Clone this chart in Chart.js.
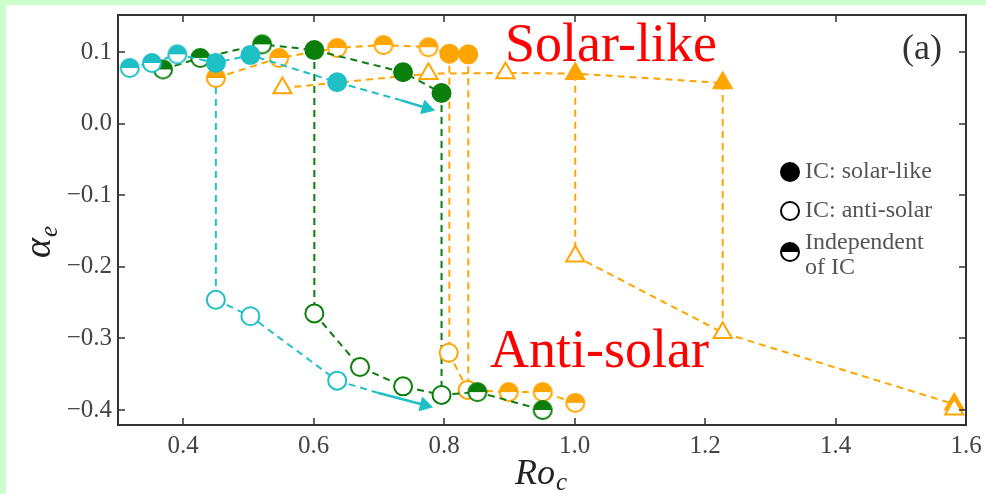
<!DOCTYPE html>
<html><head><meta charset="utf-8">
<script src="https://cdn.jsdelivr.net/npm/chart.js@4.4.0/dist/chart.umd.min.js"></script>
<style>html,body{margin:0;padding:0;background:#ccffcc;}canvas{display:block;}</style>
</head><body>
<canvas id="c" width="986" height="494"></canvas>
<script>
// ---------- data ----------
const xTicks = [0.4, 0.6, 0.8, 1.0, 1.2, 1.4, 1.6];
const yTicks = [0.1, 0.0, -0.1, -0.2, -0.3, -0.4];

// cyan branch
const cyanUpX = [0.318, 0.352, 0.391, 0.450, 0.503, 0.636];
const cyanUpY = [0.078, 0.085, 0.097, 0.085, 0.096, 0.058];
const cyanUpM = ['h', 'h', 'h', 'f', 'f', 'f'];
const cyanUpTailX = [0.636, 0.733];
const cyanUpTailY = [0.058, 0.033];
const cyanUpArrowX = [0.733, 0.773];
const cyanUpArrowY = [0.033, 0.022];
const cyanDropX = [0.450, 0.450];
const cyanDropY = [0.085, -0.246];
const cyanLowX = [0.450, 0.503, 0.636];
const cyanLowY = [-0.246, -0.269, -0.359];
const cyanLowM = ['o', 'o', 'o'];
const cyanLowTailX = [0.636, 0.698];
const cyanLowTailY = [-0.359, -0.376];
const cyanLowArrowX = [0.698, 0.770];
const cyanLowArrowY = [-0.376, -0.393];

// green branch
const greenUpX = [0.369, 0.426, 0.521, 0.601, 0.737, 0.796];
const greenUpY = [0.076, 0.092, 0.111, 0.103, 0.072, 0.043];
const greenUpM = ['h', 'h', 'h', 'f', 'f', 'f'];
const greenDrop1X = [0.601, 0.601];
const greenDrop1Y = [0.103, -0.265];
const greenDrop2X = [0.796, 0.796];
const greenDrop2Y = [0.043, -0.379];
const greenLowX = [0.601, 0.671, 0.737, 0.796, 0.851, 0.951];
const greenLowY = [-0.265, -0.340, -0.367, -0.379, -0.375, -0.400];
const greenLowM = ['o', 'o', 'o', 'o', 'h', 'h'];

// orange circles
const orUpX = [0.450, 0.547, 0.636, 0.707, 0.776, 0.808, 0.837];
const orUpY = [0.064, 0.092, 0.106, 0.110, 0.107, 0.098, 0.097];
const orUpM = ['h', 'h', 'h', 'h', 'h', 'f', 'f'];
const orDrop1X = [0.808, 0.808];
const orDrop1Y = [0.098, -0.320];
const orDrop2X = [0.837, 0.837];
const orDrop2Y = [0.097, -0.372];
const orLowX = [0.807, 0.836, 0.899, 0.951, 1.001];
const orLowY = [-0.320, -0.372, -0.375, -0.375, -0.390];
const orLowM = ['o', 'o', 'h', 'h', 'h'];

// orange triangles
const triUpX = [0.552, 0.776, 0.894, 1.001, 1.227];
const triUpY = [0.050, 0.070, 0.071, 0.070, 0.057];
const triUpM = ['to', 'to', 'to', 'tf', 'tf'];
const triDrop1X = [1.001, 1.001];
const triDrop1Y = [0.070, -0.185];
const triDrop2X = [1.227, 1.227];
const triDrop2Y = [0.057, -0.292];
const triLowX = [1.001, 1.227, 1.582];
const triLowY = [-0.185, -0.292, -0.392];
const triLowM = ['to', 'to', 'tf'];
const triEndX = [1.582];
const triEndY = [-0.399];
const triEndM = ['to'];

// ---------- styles ----------
const CYAN = '#1fbfc6', GREEN = '#0b7f0b', ORANGE = '#ffa500';
const SERIF = "'Liberation Serif', 'DejaVu Serif', serif";
const R = 9;

function halfImg(color) {
  const s = 24, cv = document.createElement('canvas');
  cv.width = s; cv.height = s;
  const g = cv.getContext('2d'), c = s / 2, r = R;
  g.beginPath(); g.arc(c, c, r, 0, 2 * Math.PI); g.fillStyle = '#fff'; g.fill();
  g.beginPath(); g.arc(c, c, r, Math.PI, 2 * Math.PI); g.closePath(); g.fillStyle = color; g.fill();
  g.beginPath(); g.arc(c, c, r, 0, 2 * Math.PI); g.strokeStyle = color; g.lineWidth = 2; g.stroke();
  return cv;
}
const halves = { [CYAN]: halfImg(CYAN), [GREEN]: halfImg(GREEN), [ORANGE]: halfImg(ORANGE), '#000': halfImg('#000') };

function pts(xs, ys) { return xs.map((x, i) => ({ x: x, y: ys[i] })); }

function series(xs, ys, marks, color) {
  return {
    data: pts(xs, ys),
    showLine: true,
    borderColor: color,
    borderWidth: 2,
    borderDash: [7, 5],
    order: marks ? 1 : 5,
    pointRadius: ctx => {
      if (!marks) return 0;
      const m = marks[ctx.dataIndex];
      return m[0] === 't' ? 10.5 : R;
    },
    pointHoverRadius: 0,
    pointBorderWidth: 2,
    pointBorderColor: color,
    pointStyle: ctx => {
      if (!marks) return 'circle';
      const m = marks[ctx.dataIndex];
      if (m === 'h') return halves[color];
      if (m[0] === 't') return 'triangle';
      return 'circle';
    },
    pointBackgroundColor: ctx => {
      if (!marks) return color;
      const m = marks[ctx.dataIndex];
      return (m === 'f' || m === 'tf') ? color : '#fff';
    }
  };
}

function arrow(xs, ys, color) {
  return {
    data: pts(xs, ys),
    showLine: true,
    borderColor: color,
    backgroundColor: color,
    borderWidth: 2.5,
    order: 2,
    pointRadius: ctx => ctx.dataIndex === 1 ? 8 : 0,
    pointHoverRadius: 0,
    pointBorderWidth: 1,
    pointBorderColor: color,
    pointBackgroundColor: color,
    pointStyle: 'triangle',
    pointRotation: ctx => {
      const ch = ctx.chart, d = ctx.dataset.data;
      const sx = ch.scales.x, sy = ch.scales.y;
      if (!sx || !sy) return 0;
      const dx = sx.getPixelForValue(d[1].x) - sx.getPixelForValue(d[0].x);
      const dy = sy.getPixelForValue(d[1].y) - sy.getPixelForValue(d[0].y);
      return Math.atan2(dy, dx) * 180 / Math.PI + 90;
    }
  };
}

const datasets = [
  series(cyanUpX, cyanUpY, cyanUpM, CYAN),
  series(cyanLowX, cyanLowY, cyanLowM, CYAN),
  series(greenUpX, greenUpY, greenUpM, GREEN),
  series(greenLowX, greenLowY, greenLowM, GREEN),
  series(orUpX, orUpY, orUpM, ORANGE),
  series(orLowX, orLowY, orLowM, ORANGE),
  series(triUpX, triUpY, triUpM, ORANGE),
  series(triLowX, triLowY, triLowM, ORANGE),
  series(triEndX, triEndY, triEndM, ORANGE),
  series(cyanUpTailX, cyanUpTailY, null, CYAN),
  series(cyanLowTailX, cyanLowTailY, null, CYAN),
  arrow(cyanUpArrowX, cyanUpArrowY, CYAN),
  arrow(cyanLowArrowX, cyanLowArrowY, CYAN),
  series(cyanDropX, cyanDropY, null, CYAN),
  series(greenDrop1X, greenDrop1Y, null, GREEN),
  series(greenDrop2X, greenDrop2Y, null, GREEN),
  series(orDrop1X, orDrop1Y, null, ORANGE),
  series(orDrop2X, orDrop2Y, null, ORANGE),
  series(triDrop1X, triDrop1Y, null, ORANGE),
  series(triDrop2X, triDrop2Y, null, ORANGE)
];
datasets[8].order = 0;

const fmt = v => { const s = Number(v).toFixed(1); return s.replace('-', '\u2212'); };

const deco = {
  id: 'deco',
  beforeDraw(chart) {
    const c = chart.ctx;
    c.save();
    c.fillStyle = '#ccffcc'; c.fillRect(0, 0, chart.width, chart.height);
    c.fillStyle = '#ffffff'; c.fillRect(6, 5, chart.width - 6, chart.height - 5);
    c.restore();
  },
  afterDraw(chart) {
    const c = chart.ctx, a = chart.chartArea, sx = chart.scales.x, sy = chart.scales.y;
    c.save();
    c.strokeStyle = '#333'; c.lineWidth = 2;
    c.strokeRect(a.left, a.top, a.right - a.left, a.bottom - a.top);
    const L = 7;
    c.beginPath();
    xTicks.forEach(v => {
      const p = Math.round(sx.getPixelForValue(v));
      c.moveTo(p, a.bottom); c.lineTo(p, a.bottom - L);
      c.moveTo(p, a.top); c.lineTo(p, a.top + L);
    });
    yTicks.forEach(v => {
      const p = Math.round(sy.getPixelForValue(v));
      c.moveTo(a.left, p); c.lineTo(a.left + L, p);
      c.moveTo(a.right, p); c.lineTo(a.right - L, p);
    });
    c.lineWidth = 1.5; c.stroke();

    c.fillStyle = '#ff0000';
    c.font = '54px ' + SERIF;
    c.textBaseline = 'alphabetic'; c.textAlign = 'left';
    c.fillText('Solar-like', 505, 61);
    c.fillText('Anti-solar', 490, 367);

    c.fillStyle = '#333';
    c.font = '36px ' + SERIF;
    c.textAlign = 'center';
    c.fillText('(a)', 922, 59);

    const lx = 790;
    c.lineWidth = 2;
    c.beginPath(); c.arc(lx, 172, R, 0, 2 * Math.PI); c.fillStyle = '#000'; c.fill(); c.strokeStyle = '#000'; c.stroke();
    c.beginPath(); c.arc(lx, 211, R, 0, 2 * Math.PI); c.fillStyle = '#fff'; c.fill(); c.stroke();
    c.drawImage(halves['#000'], lx - 12, 252 - 12);
    c.fillStyle = '#555';
    c.font = '24px ' + SERIF;
    c.textAlign = 'left'; c.textBaseline = 'middle';
    c.fillText('IC: solar-like', 805, 172);
    c.fillText('IC: anti-solar', 805, 211);
    c.fillText('Independent', 805, 243);
    c.fillText('of IC', 805, 268);

    c.fillStyle = '#222';
    c.textBaseline = 'alphabetic';
    c.font = 'italic 36px ' + SERIF;
    const wRo = c.measureText('Ro').width;
    c.fillText('Ro', 515, 484);
    c.font = 'italic 25px ' + SERIF;
    c.fillText('c', 515 + wRo + 1, 490);

    c.translate(50, 243);
    c.rotate(-Math.PI / 2);
    c.font = 'italic 38px ' + SERIF;
    const wA = c.measureText('\u03b1').width;
    c.fillText('\u03b1', -15, 0);
    c.font = 'italic 25px ' + SERIF;
    c.fillText('e', -15 + wA + 1, 7);
    c.restore();
  }
};

new Chart(document.getElementById('c'), {
  type: 'scatter',
  data: { datasets: datasets },
  plugins: [deco],
  options: {
    responsive: false,
    animation: false,
    devicePixelRatio: 1,
    layout: { padding: { left: 0, top: 15, right: 20, bottom: 0 } },
    plugins: { legend: { display: false }, tooltip: { enabled: false } },
    elements: { line: { tension: 0, fill: false } },
    scales: {
      x: {
        type: 'linear', min: 0.3, max: 1.6,
        afterBuildTicks: s => { s.ticks = xTicks.map(v => ({ value: v })); },
        afterFit: s => { s.height = 69; s.paddingLeft = 0; s.paddingRight = 0; },
        grid: { display: false, drawTicks: false },
        border: { display: false },
        ticks: { callback: v => fmt(v), font: { family: SERIF, size: 25 }, color: '#444', padding: 6, maxRotation: 0 }
      },
      y: {
        type: 'linear', min: -0.421, max: 0.152,
        afterBuildTicks: s => { s.ticks = yTicks.map(v => ({ value: v })); },
        afterFit: s => { s.width = 118; s.paddingTop = 0; s.paddingBottom = 0; },
        grid: { display: false, drawTicks: false },
        border: { display: false },
        ticks: { callback: v => fmt(v), font: { family: SERIF, size: 25 }, color: '#444', padding: 6 }
      }
    }
  }
});
</script>
</body></html>
